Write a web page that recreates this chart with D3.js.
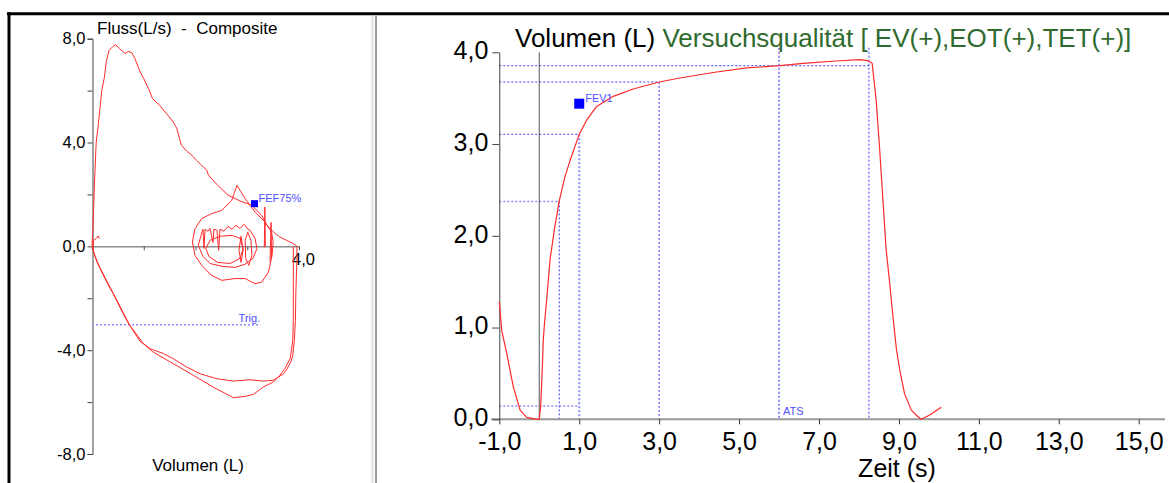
<!DOCTYPE html>
<html><head><meta charset="utf-8">
<script src="https://cdn.jsdelivr.net/npm/d3@7"></script>
<style>body{margin:0;background:#fff}svg{display:block;font-family:"Liberation Sans",Arial,sans-serif}</style>
</head><body><svg id="c" width="1169" height="483"></svg>
<script>
// ---------- Left panel: flow-volume (vol L, flow L/s) ----------
const fvTicksMajor = [8, 4, 0, -4, -8];
const fvTicksMinor = [6, 2, -2, -6];
const fvXTicks = [1, 2, 3, 4];
const fvXLabels = [4];
const expiration = [[0,0],[0.02,0.81],[0.05,2.54],[0.08,3.97],[0.12,4.66],[0.15,5.24],[0.19,6.01],[0.24,6.52],[0.28,7.17],[0.33,7.55],[0.41,7.71],[0.46,7.77],[0.53,7.62],[0.64,7.43],[0.70,7.51],[0.77,7.46],[0.83,7.23],[0.93,6.72],[1.00,6.46],[1.09,6.08],[1.17,5.69],[1.31,5.43],[1.44,5.11],[1.57,4.79],[1.64,4.54],[1.70,4.08],[1.73,3.89],[1.83,3.67],[1.93,3.51],[2.02,3.31],[2.22,2.93],[2.25,2.74],[2.43,2.35],[2.63,1.97],[2.86,1.75],[3.09,1.58],[3.28,1.19],[3.38,0.81],[3.54,0.49],[3.63,0.36],[3.76,0.23],[3.88,0.12],[3.96,0]];
const inspiration1 = [[3.96,0],[3.96,-0.54],[3.94,-1.70],[3.93,-2.85],[3.91,-3.62],[3.88,-4.2],[3.84,-4.47],[3.75,-4.78],[3.70,-4.91],[3.59,-5.05],[3.50,-5.16],[3.31,-5.19],[3.05,-5.14],[2.73,-5.19],[2.41,-5.10],[2.09,-4.91],[1.83,-4.65],[1.57,-4.33],[1.38,-4.13],[1.12,-3.94],[0.93,-3.66],[0.79,-3.24],[0.67,-2.85],[0.54,-2.35],[0.41,-1.81],[0.28,-1.31],[0.15,-0.81],[0.06,-0.39],[0,0]];
const inspiration2 = [[3.89,0],[3.89,-1.31],[3.89,-2.85],[3.88,-3.62],[3.83,-4.32],[3.73,-4.70],[3.63,-4.97],[3.50,-5.23],[3.31,-5.42],[3.12,-5.70],[2.96,-5.78],[2.73,-5.83],[2.34,-5.42],[1.96,-4.97],[1.57,-4.52],[1.18,-4.07],[0.99,-3.74],[0.73,-3.04],[0.60,-2.54],[0.46,-2.00],[0.35,-1.62],[0.21,-1.08],[0.10,-0.62],[0.02,-0.15],[0.03,0.23],[0.08,0.30],[0.12,0.40],[0.14,0.30]];
const tidalLoopA = [[1.94,0.17],[1.99,0.68],[2.12,1.07],[2.31,1.26],[2.51,1.39],[2.70,1.77],[2.80,2.35],[2.86,2.16],[2.96,1.84],[3.15,1.32],[3.34,0.94],[3.47,0.55],[3.50,0.17],[3.48,-0.35],[3.41,-0.99],[3.28,-1.38],[3.15,-1.44],[2.96,-1.24],[2.76,-1.24],[2.51,-1.31],[2.31,-1.12],[2.12,-0.73],[1.99,-0.35],[1.94,0.17]];
const tidalLoopB = [[2.054,0.04],[2.106,0.42],[2.145,0.66],[2.164,-0.08],[2.184,0.66],[2.242,0.58],[2.280,0.69],[2.338,0.15],[2.357,0.66],[2.415,0.62],[2.448,-0.15],[2.473,0.66],[2.551,0.58],[2.628,0.77],[2.705,0.66],[2.783,0.81],[2.860,0.69],[2.937,0.85],[3.014,0.66],[3.053,0.62],[3.150,0.31],[3.188,-0.08],[3.111,-0.46],[2.957,-0.69],[2.763,-0.81],[2.512,-0.77],[2.280,-0.66],[2.145,-0.39],[2.054,0.04]];
const tidalLoopC = [[2.20,-0.08],[2.28,0.23],[2.47,0.39],[2.71,0.42],[2.86,0.31],[2.92,-0.08],[2.86,-0.46],[2.67,-0.66],[2.43,-0.62],[2.26,-0.39],[2.20,-0.08]];
const tidalLoopD = [[2.96,0.23],[3.01,0.54],[3.07,0.23],[3.09,-0.35],[3.03,-0.73],[2.97,-0.46],[2.96,0.23]];
const tidalLoopE = [[2.88,0.39],[2.92,-0.15],[2.88,-0.62],[2.84,-0.15],[2.88,0.39]];
const spikeA = [[3.33,-0.04],[3.34,1.51],[3.35,0.0]];
const spikeB = [[3.44,-0.62],[3.46,0.92],[3.47,-0.46]];
const trigFlow = -3.02, trigEndVol = 3.25;
const fef75 = [3.14, 1.645];

// ---------- Right panel: volume-time ----------
const vtYTicks = [0, 1, 2, 3, 4];
const vtXTicks = [-1, 1, 3, 5, 7, 9, 11, 13, 15];
const volTime = [[-1.0,1.28],[-0.94,0.97],[-0.815,0.72],[-0.65,0.355],[-0.48,0.10],[-0.315,0.02],[-0.065,0.0],[0.0,0.0],[0.035,0.14],[0.075,0.54],[0.1,0.86],[0.125,1.01],[0.185,1.3],[0.27,1.74],[0.39,2.1],[0.5,2.38],[0.64,2.64],[0.77,2.82],[1.0,3.106],[1.185,3.26],[1.435,3.41],[1.85,3.52],[2.35,3.6],[3.0,3.676],[3.52,3.72],[4.35,3.78],[5.19,3.83],[6.02,3.854],[6.6,3.88],[7.43,3.905],[8.02,3.92],[8.22,3.91],[8.33,3.88],[8.43,3.48],[8.52,2.93],[8.6,2.39],[8.68,1.85],[8.77,1.48],[8.85,1.12],[8.94,0.755],[9.02,0.54],[9.14,0.28],[9.31,0.10],[9.47,0.03],[9.56,0.0],[9.77,0.047],[10.06,0.13]];
const hRefs = [[3.854,8.25,"d"],[3.676,3.0,"d"],[3.106,1.0,"d"],[2.375,0.5,"l"],[0.145,1.0,"l"]];
const vRefs = [[0.5,2.375,"d"],[1.0,3.106,"l"],[3.0,3.676,"d"],[6.0,4.05,"l"],[8.25,4.05,"d"]];
const fev1 = [1.0, 3.44];
const atsTime = 6.0;

const svg = d3.select("#c");
const fmt = d => d.toFixed(1).replace(".", ",");
const RED = "#ff2a2a", BLUE_D = "#3a3aff", BLUE_L = "#8c8cff";

// frame
svg.append("rect").attr("width",1169).attr("height",483).attr("fill","#fff");
svg.append("line").attr("x1",7).attr("x2",1169).attr("y1",13.8).attr("y2",13.8).attr("stroke","#000").attr("stroke-width",3);
svg.append("line").attr("x1",9).attr("x2",9).attr("y1",12.3).attr("y2",483).attr("stroke","#000").attr("stroke-width",3);
svg.append("line").attr("x1",372.5).attr("x2",372.5).attr("y1",16).attr("y2",483).attr("stroke","#dcdcdc").attr("stroke-width",2);
svg.append("line").attr("x1",376).attr("x2",376).attr("y1",16).attr("y2",483).attr("stroke","#9a9a9a").attr("stroke-width",2);

// ---- left panel ----
const lx = d3.scaleLinear().domain([0,4]).range([92,299]);
const ly = d3.scaleLinear().domain([-8,8]).range([454,38.7]);
const L = svg.append("g");
const yAx = L.append("g").attr("transform","translate(92.5,0)")
  .call(d3.axisLeft(ly).tickValues(fvTicksMajor.concat(fvTicksMinor)).tickSize(5).tickFormat(d => fvTicksMajor.includes(d) ? fmt(d) : ""));
yAx.select(".domain").attr("stroke","#444");
yAx.selectAll(".tick line").attr("stroke","#444");
yAx.selectAll("text").attr("font-size",16.5).attr("fill","#000").attr("font-family","Liberation Sans, Arial").attr("x",-7);
const xAx = L.append("g").attr("transform",`translate(0,${ly(0)})`)
  .call(d3.axisBottom(lx).tickValues(fvXTicks).tickSize(4).tickSizeOuter(0).tickFormat(d => fvXLabels.includes(d) ? fmt(d) : ""));
xAx.select(".domain").attr("stroke","#555");
xAx.selectAll(".tick line").attr("stroke","#555");
xAx.selectAll("text").attr("font-size",16.5).attr("fill","#000").attr("font-family","Liberation Sans, Arial").attr("dx",4).attr("y",7);

L.append("text").attr("x",97).attr("y",34).attr("font-size",17).text("Fluss(L/s)  -  Composite").style("white-space","pre");
L.append("text").attr("x",198).attr("y",471).attr("font-size",17).attr("text-anchor","middle").text("Volumen (L)");

// trig line
L.append("line").attr("x1",lx(0)).attr("x2",lx(trigEndVol)).attr("y1",ly(trigFlow)).attr("y2",ly(trigFlow))
  .attr("stroke",BLUE_L).attr("stroke-width",1.3).attr("stroke-dasharray","2,2");
L.append("text").attr("x",lx(trigEndVol)).attr("y",ly(trigFlow)-3).attr("text-anchor","end").attr("font-size",11).attr("fill","#5050ff").text("Trig.");

const lline = d3.line().x(d => lx(d[0])).y(d => ly(d[1]));
[expiration, inspiration1, inspiration2, tidalLoopA, tidalLoopB, tidalLoopC, tidalLoopD, tidalLoopE, spikeA, spikeB].forEach(s => {
  L.append("path").attr("d", lline(s)).attr("fill","none").attr("stroke",RED).attr("stroke-width",1).attr("stroke-linejoin","round");
});
L.append("rect").attr("x",lx(fef75[0])-3.5).attr("y",ly(fef75[1])-3.5).attr("width",7).attr("height",7).attr("fill","#0000ff");
L.append("text").attr("x",lx(fef75[0])+4).attr("y",ly(fef75[1])-2).attr("font-size",11).attr("fill","#5050ff").text("FEF75%");

// ---- right panel ----
const rx = d3.scaleLinear().domain([-1,15]).range([499.3,1138.7]);
const ry = d3.scaleLinear().domain([0,4]).range([419.3,52.3]);
const R = svg.append("g");

hRefs.forEach(([v,t,c]) => R.append("line").attr("x1",rx(-1)).attr("x2",rx(t)).attr("y1",ry(v)).attr("y2",ry(v))
  .attr("stroke", c==="d"?BLUE_D:BLUE_L).attr("stroke-width", c==="d"?1:1.5).attr("stroke-dasharray","2,2"));
vRefs.forEach(([t,v,c]) => R.append("line").attr("x1",rx(t)).attr("x2",rx(t)).attr("y1",ry(v)).attr("y2",ry(0))
  .attr("stroke", c==="d"?BLUE_D:BLUE_L).attr("stroke-width", c==="d"?1:2).attr("stroke-dasharray","2,2"));

R.append("line").attr("x1",rx(0)).attr("x2",rx(0)).attr("y1",ry(4)).attr("y2",ry(0)).attr("stroke","#555").attr("stroke-width",1);

const rxAx = R.append("g").attr("transform",`translate(0,${ry(0)})`)
  .call(d3.axisBottom(rx).tickValues(vtXTicks).tickSize(5).tickSizeOuter(0).tickFormat(fmt));
rxAx.select(".domain").attr("d",`M${rx(-1)-8},0H1165`).attr("stroke","#999").attr("stroke-width",2);
rxAx.selectAll(".tick line").attr("stroke","#333");
rxAx.selectAll("text").attr("font-size",25).attr("fill","#000").attr("font-family","Liberation Sans, Arial").attr("y",13);

const ryAx = R.append("g").attr("transform",`translate(${rx(-1)},0)`)
  .call(d3.axisLeft(ry).tickValues(vtYTicks).tickSize(7).tickSizeOuter(0).tickFormat(fmt));
ryAx.select(".domain").attr("stroke","#444");
ryAx.selectAll(".tick line").attr("stroke","#444");
ryAx.selectAll("text").attr("font-size",25).attr("fill","#000").attr("font-family","Liberation Sans, Arial").attr("x",-11).attr("dy","0.25em");

const rline = d3.line().x(d => rx(d[0])).y(d => ry(d[1]));
R.append("path").attr("d", rline(volTime)).attr("fill","none").attr("stroke",RED).attr("stroke-width",1.2).attr("stroke-linejoin","round");

R.append("rect").attr("x",rx(fev1[0])-5).attr("y",ry(fev1[1])-5).attr("width",10).attr("height",10).attr("fill","#0000ff");
R.append("text").attr("x",rx(fev1[0])+6).attr("y",ry(fev1[1])-2).attr("font-size",11).attr("fill","#5050ff").text("FEV1");
R.append("text").attr("x",rx(atsTime)+4).attr("y",ry(0)-4).attr("font-size",11).attr("fill","#5050ff").text("ATS");

const title = R.append("text").attr("x",515).attr("y",47).attr("font-size",26);
title.append("tspan").attr("fill","#000").text("Volumen (L) ");
title.append("tspan").attr("fill","#2f6a2f").text("Versuchsqualität [ EV(+),EOT(+),TET(+)]");
R.append("text").attr("x",897).attr("y",477).attr("font-size",25).attr("text-anchor","middle").text("Zeit (s)");
</script></body></html>
